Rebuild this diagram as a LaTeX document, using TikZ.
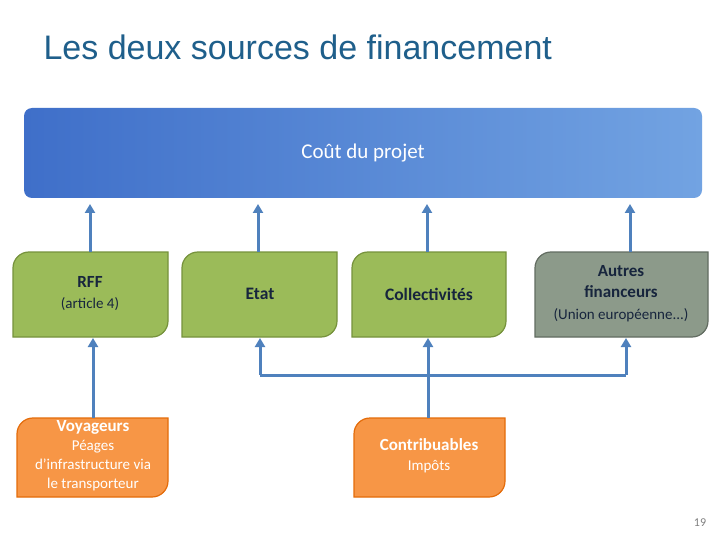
\documentclass[tikz,border=0pt]{standalone}
\usepackage{fontspec}
\setmainfont{Carlito}
\newfontfamily\titlefont{Liberation Sans}
\usetikzlibrary{arrows.meta}
\definecolor{arr}{HTML}{4F81BD}
\definecolor{grn}{HTML}{9BBB59}
\definecolor{grnd}{HTML}{76923C}
\definecolor{gry}{HTML}{8C9A8A}
\definecolor{org}{HTML}{F79646}
\definecolor{orgd}{HTML}{E46C0A}
\definecolor{ttl}{HTML}{1F5F8B}
\definecolor{navy}{HTML}{17253D}
\definecolor{barl}{HTML}{3F6FC9}
\definecolor{barr}{HTML}{72A3E2}
\begin{document}
\begin{tikzpicture}[x=1pt,y=-1pt,
  conn/.style={draw=arr,line width=3pt,-{Triangle[length=9pt,width=10pt]}},
  lin/.style={draw=arr,line width=3pt}]
\useasboundingbox[fill=white] (0,0) rectangle (720,540);
\node[anchor=west,font=\titlefont\fontsize{34}{38}\selectfont,text=ttl] (title) at (40,47) {Les deux sources de financement};
\shade[left color=barl,right color=barr,rounded corners=8pt] (24,108) rectangle (702,198);
\node[font=\fontsize{21}{24}\selectfont,text=white] (cout) at (363,153) {Coût du projet};
\coordinate (c1) at (90,204);\coordinate (c2) at (258,204);\coordinate (c3) at (427,204);\coordinate (c4) at (630,204);
\newcommand\shbox[6]{%
  \path[fill=#5,draw=#6,line width=1.2pt] (#1,#2+16) -- (#1,#4) -- (#3-16,#4) to[out=0,in=-90] (#3,#4-16) -- (#3,#2) -- (#1+16,#2) to[out=180,in=90] cycle;}
\shbox{13}{252}{168}{337}{grn}{grnd}
\shbox{182}{252}{337}{337}{grn}{grnd}
\shbox{352}{252}{506}{337}{grn}{grnd}
\shbox{535}{252}{708}{337}{gry}{gry!70!black}
\shbox{17}{418}{168}{497}{org}{orgd}
\shbox{354}{418}{505}{497}{org}{orgd}
\node[align=center,text=navy,font=\fontsize{17}{20}\selectfont] (rff) at (90,294) {\textbf{RFF}\\[1pt]{\fontsize{15}{18}\selectfont(article 4)}};
\node[text=navy,font=\bfseries\fontsize{17.5}{20}\selectfont] (etat) at (260,294) {Etat};
\node[text=navy,font=\bfseries\fontsize{17.5}{20}\selectfont] (coll) at (429,294) {Collectivités};
\node[align=center,text=navy,font=\bfseries\fontsize{17}{21}\selectfont] (aut) at (621,294) {Autres\\financeurs\\[1pt]{\mdseries\fontsize{15}{18}\selectfont(Union européenne...)}};
\node[align=center,text=white,font=\fontsize{15}{19}\selectfont] (voy) at (93,456) {\textbf{\fontsize{17}{20}\selectfont Voyageurs}\\Péages\\d’infrastructure via\\le transporteur};
\node[align=center,text=white,font=\fontsize{15}{19}\selectfont] (contr) at (429,456) {\textbf{\fontsize{17}{20}\selectfont Contribuables}\\[1pt]Impôts};
\coordinate (rt) at (90,252);\coordinate (et) at (258,252);\coordinate (ct) at (427,252);\coordinate (at) at (630,252);
\coordinate (rb) at (93,338);\coordinate (vt) at (93,418);
\coordinate (eb) at (260,338);\coordinate (cb) at (428,338);\coordinate (ab) at (626,338);
\coordinate (kt) at (428,418);
\coordinate (jl) at (260,375);\coordinate (jr) at (626,375);
\draw[conn] (rt) -- (c1);\draw[conn] (et) -- (c2);\draw[conn] (ct) -- (c3);\draw[conn] (at) -- (c4);
\draw[conn] (vt) -- (rb);
\draw[conn] (kt) -- (cb);
\draw[lin] (jl) -- (jr);
\draw[conn] (jl) -- (eb);\draw[conn] (jr) -- (ab);
\node[font=\fontsize{12}{14}\selectfont,text=gray] (pg) at (700,523) {19};
\end{tikzpicture}
\end{document}
